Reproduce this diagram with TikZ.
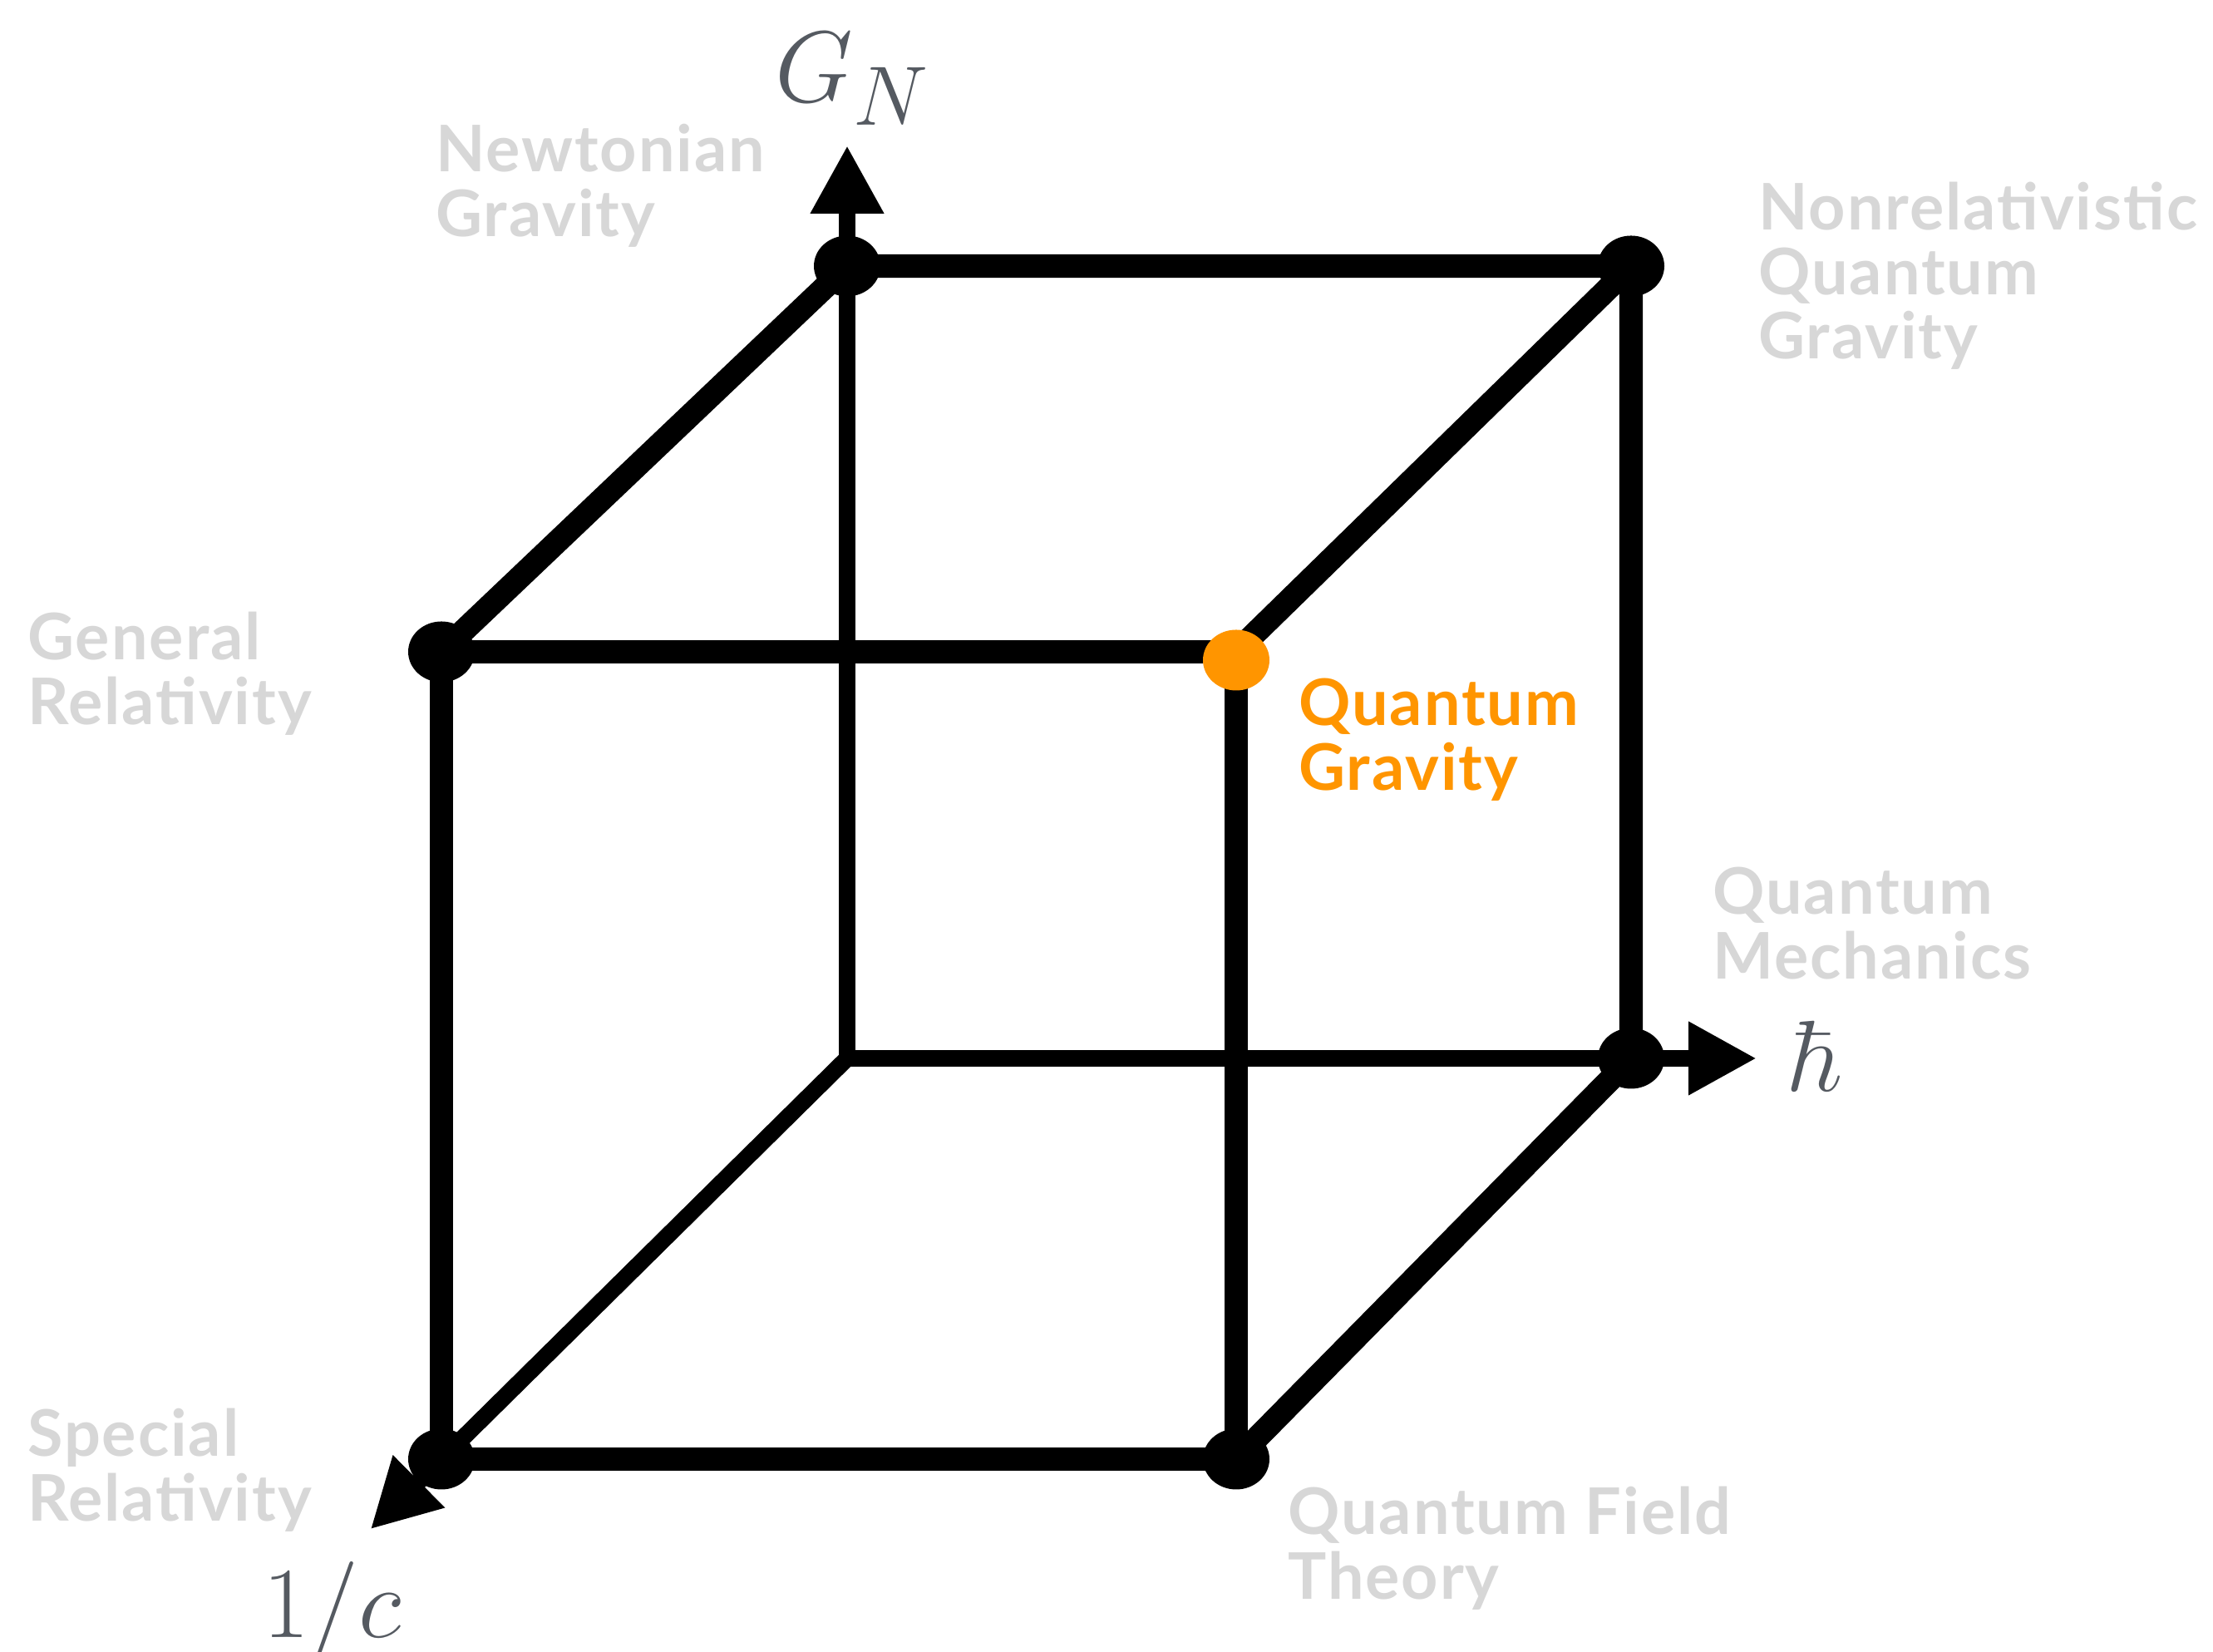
\documentclass[tikz,border=0pt]{standalone}
\usepackage[no-math]{fontspec}
\setmainfont{Lato}[LetterSpace=2.5]
\usetikzlibrary{arrows.meta,shapes.geometric}
\definecolor{lightlabel}{HTML}{D7D7D7}
\definecolor{qgorange}{HTML}{FF9500}
\definecolor{axislabel}{HTML}{555A61}
\tikzset{
  cubeedge/.style={line width=4pt},
  axisline/.style={line width=2.85pt, -{Triangle[length=0.41cm,width=0.415cm]}},
  cubedot/.style={ellipse, fill=black, minimum width=0.4cm, minimum height=0.365cm, inner sep=0pt},
  theory/.style={anchor=north west, inner sep=0pt, align=left, text=lightlabel,
    font=\fontsize{11}{11}\selectfont\bfseries},
  axisname/.style={anchor=base, inner sep=0pt, text=axislabel, font=\fontsize{19}{20}\selectfont}
}
\begin{document}
\begin{tikzpicture}
    \useasboundingbox (0,0) rectangle (13.31,9.935);
    % corners of the cube
    \coordinate (o) at (5.095,3.57);
    \coordinate (ng) at (5.095,8.335);
    \coordinate (qm) at (9.81,3.57);
    \coordinate (nrqg) at (9.81,8.335);
    \coordinate (gr) at (2.655,6.015);
    \coordinate (qg) at (7.435,6.015);
    \coordinate (sr) at (2.655,1.16);
    \coordinate (qft) at (7.435,1.16);
    \coordinate (gntip) at (5.095,9.06);
    \coordinate (htip) at (10.565,3.57);
    \coordinate (ctip) at (2.228,0.738);
    % axes
    \draw[axisline] (o) -- (gntip);
    \draw[axisline] (o) -- (htip);
    \draw[axisline] (o) -- (ctip);
    % edges
    \draw[cubeedge] (gr) -- (qg) -- (qft) -- (sr) -- (gr);
    \draw[cubeedge] (gr) -- (ng) -- (nrqg) -- (qg);
    \draw[cubeedge] (nrqg) -- (qm) -- (qft);
    % dots
    \node[cubedot] (ngdot) at (ng) {};
    \node[cubedot] (nrqgdot) at (nrqg) {};
    \node[cubedot] (grdot) at (gr) {};
    \node[cubedot] (srdot) at (sr) {};
    \node[cubedot] (qftdot) at (qft) {};
    \node[cubedot] (qmdot) at (qm) {};
    \node[cubedot, fill=qgorange, yshift=-0.05cm] (qgdot) at (qg) {};
    % theories
    \node[theory] (ngtext) at (2.615,9.195) {Newtonian\\Gravity};
    \node[theory] (nrqgtext) at (10.57,8.845) {Nonrelativistic\\Quantum\\Gravity};
    \node[theory] (grtext) at (0.16,6.26) {General\\Relativity};
    \node[theory] (srtext) at (0.16,1.47) {Special\\Relativity};
    \node[theory] (qmtext) at (10.295,4.725) {Quantum\\Mechanics};
    \node[theory] (qfttext) at (7.74,1.0) {Quantum Field\\Theory};
    \node[theory, text=qgorange] (qgtext) at (7.805,5.86) {Quantum\\Gravity};
    % axis labels
    \node[axisname] (gnlabel) at (5.13,9.32) {$G_N$};
    \node[axisname] (hlabel) at (10.925,3.37) {$\hbar$};
    \node[axisname] (clabel) at (2.0,0.085) {$1/c$};
\end{tikzpicture}
\end{document}
